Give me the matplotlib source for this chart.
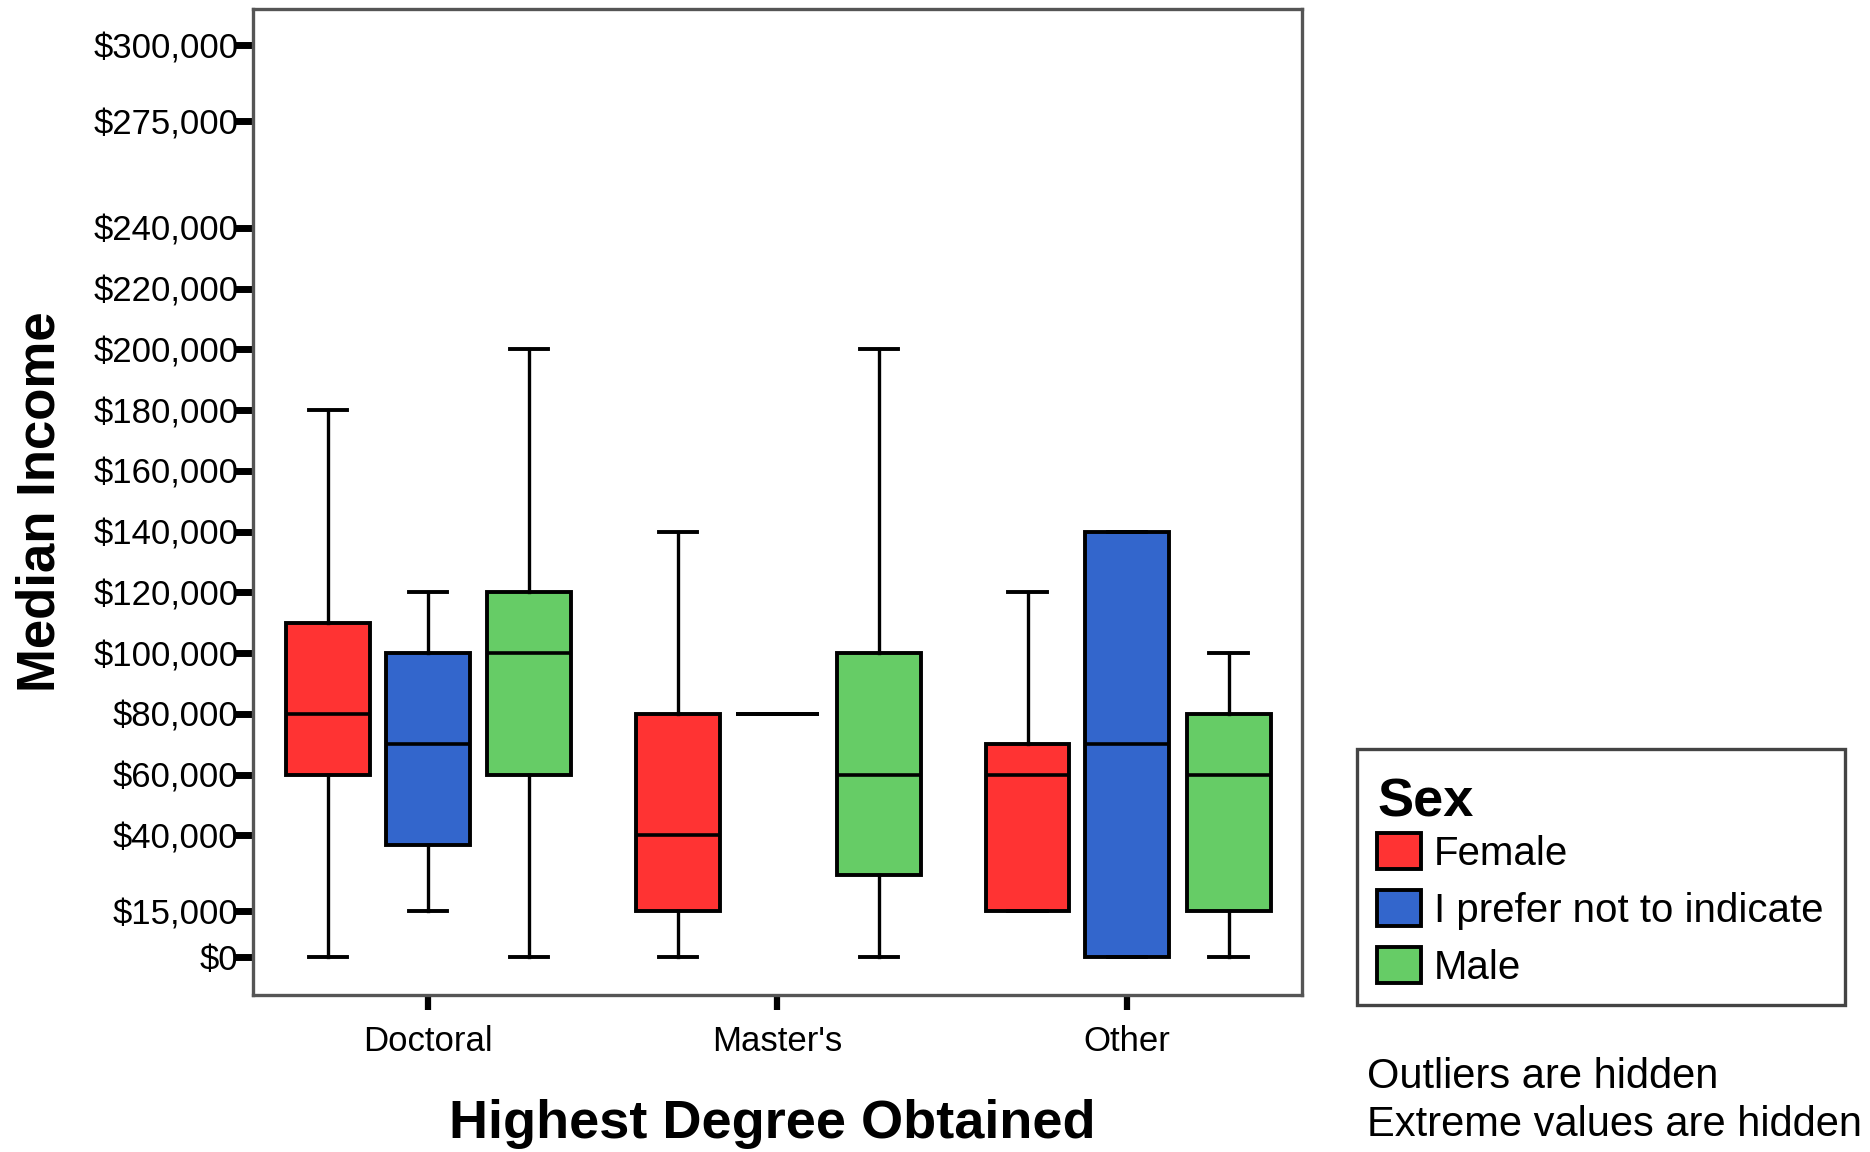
import matplotlib
matplotlib.use("Agg")
import matplotlib.pyplot as plt
from matplotlib.patches import Patch, Rectangle

plt.rcParams['font.family'] = ['Liberation Sans', 'DejaVu Sans']

# data (US dollars)
categories = ["Doctoral", "Master's", "Other"]
groups = ["Female", "I prefer not to indicate", "Male"]
colors = ['#FF3333', '#3366CC', '#66CC66']

female_lo = [0, 0, 15000]
female_q1 = [60000, 15000, 15000]
female_med = [80000, 40000, 60000]
female_q3 = [110000, 80000, 70000]
female_hi = [180000, 140000, 120000]

prefer_lo = [15000, 80000, 0]
prefer_q1 = [37000, 80000, 0]
prefer_med = [70000, 80000, 70000]
prefer_q3 = [100000, 80000, 140000]
prefer_hi = [120000, 80000, 140000]

male_lo = [0, 0, 0]
male_q1 = [60000, 27000, 15000]
male_med = [100000, 60000, 60000]
male_q3 = [120000, 100000, 80000]
male_hi = [200000, 200000, 100000]

ytick_vals = [0, 15000, 40000, 60000, 80000, 100000, 120000, 140000,
              160000, 180000, 200000, 220000, 240000, 275000, 300000]

series = [
    (female_lo, female_q1, female_med, female_q3, female_hi),
    (prefer_lo, prefer_q1, prefer_med, prefer_q3, prefer_hi),
    (male_lo, male_q1, male_med, male_q3, male_hi),
]
offsets = [-0.285, 0.0, 0.29]
box_w = 0.24

fig = plt.figure(figsize=(18.7, 11.52), dpi=100)
ax = fig.add_axes([253/1870, 1 - 995/1152, 1049/1870, 986/1152])

for g, (lo, q1, med, q3, hi) in enumerate(series):
    stats = []
    for i in range(len(categories)):
        stats.append(dict(whislo=lo[i], q1=q1[i], med=med[i], q3=q3[i], whishi=hi[i], fliers=[]))
    pos = [i + offsets[g] for i in range(len(categories))]
    ax.bxp(stats, positions=pos, widths=box_w, patch_artist=True, showfliers=False,
           capwidths=0.11,
           boxprops=dict(facecolor=colors[g], edgecolor='black', linewidth=2.8),
           medianprops=dict(color='black', linewidth=2.6),
           whiskerprops=dict(color='black', linewidth=2.4),
           capprops=dict(color='black', linewidth=2.8))

ax.set_xlim(-0.5, 2.5)
ax.set_ylim(-12500, 312000)
ax.set_xticks(range(len(categories)))
ax.set_xticklabels(categories, fontsize=25)
ax.set_yticks(ytick_vals)
ax.set_yticklabels(['${:,}'.format(v) for v in ytick_vals], fontsize=25)
ax.tick_params(axis='y', direction='out', length=14, width=5, color='black', pad=-3.5)
ax.tick_params(axis='x', direction='out', length=11, width=4.5, color='black', pad=10.5)

for sp in ax.spines.values():
    sp.set_color('#555555')
    sp.set_linewidth(2.4)

ax.set_ylabel('Median Income', fontsize=38, fontweight='bold')
ax.yaxis.set_label_coords(-0.2025, 0.5)
ax.yaxis.label.set_va('center')
ax.set_xlabel('Highest Degree Obtained', fontsize=39, fontweight='bold')
ax.xaxis.set_label_coords(0.495, -0.131)
ax.xaxis.label.set_va('center')

# legend contents (frame drawn separately so the padding can match)
handles = [Patch(facecolor=c, edgecolor='black', linewidth=2.8) for c in colors]
leg = ax.legend(handles, groups, loc='upper left',
                bbox_to_anchor=(1357/1870, 1 - 757/1152),
                bbox_transform=fig.transFigure,
                fontsize=29, title='Sex', title_fontproperties=dict(size=39, weight='bold'),
                alignment='left', frameon=False,
                handlelength=1.1, handleheight=1.0, handletextpad=0.3,
                labelspacing=0.43, borderpad=0.5, borderaxespad=0)
leg._legend_box.sep = 4  # tighter gap under the title

frame = Rectangle((1357/1870, 1 - 1005/1152), (1845 - 1357)/1870, (1005 - 749)/1152,
                  transform=fig.transFigure, fill=False, edgecolor='#444444', linewidth=2.4)
fig.add_artist(frame)

fig.text(1367/1870, 1 - 1077/1152, 'Outliers are hidden', fontsize=30, va='center', ha='left')
fig.text(1367/1870, 1 - 1125/1152, 'Extreme values are hidden', fontsize=30, va='center', ha='left')

fig.savefig('out.png', dpi=100, facecolor='white')
